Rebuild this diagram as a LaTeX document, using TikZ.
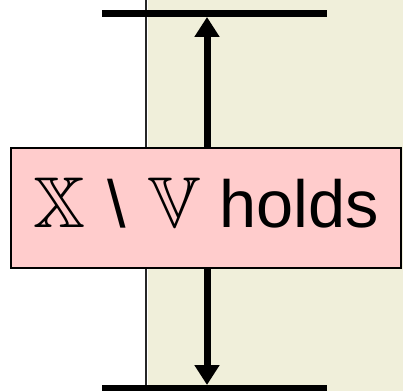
\documentclass[tikz,border=0pt]{standalone}
\usepackage{amssymb}
\usepackage{fontspec}
\usepackage{tikz}
\usetikzlibrary{arrows.meta, positioning}
\newfontfamily\arialfont{Liberation Sans}
\definecolor{cBeige}{RGB}{240,239,218}
\definecolor{cPink}{RGB}{255,204,204}
\newcommand{\bbsym}[1]{{\fontsize{54}{60}\selectfont$\mathbb{#1}$}}
\tikzset{
	bar/.style     ={line width=5.25pt},
	divider/.style ={line width=1.8pt, black!85},
	span/.style    ={{Triangle[length=15pt,width=18pt]}-{Triangle[length=15pt,width=18pt]}, line width=5.25pt},
	label/.style   ={rectangle, draw=black, line width=1.4pt, fill=cPink, minimum width=292.5pt, minimum height=90pt, inner sep=0pt, text height=30pt, text depth=0pt, font=\arialfont\fontsize{50}{60}\selectfont},
}
\begin{document}
\begin{tikzpicture}[x=0.75pt, y=-0.75pt]
	\useasboundingbox (0,0) rectangle (403,391);
	% shaded half
	\fill[cBeige] (148,0) rectangle (403,391);
	\draw[divider] (146,0) -- (146,391);
	% limits
	\coordinate (topL) at (102,13.5);
	\coordinate (topR) at (327,13.5);
	\coordinate (botL) at (102,388);
	\coordinate (botR) at (327,388);
	\draw[bar] (topL) -- (topR);
	\draw[bar] (botL) -- (botR);
	\coordinate (arTop) at (207,17);
	\coordinate (arBot) at (207,385);
	\draw[span] (arTop) -- (arBot);
	\node[label] (cond) at (206,208) {\bbsym{X}\hspace{3pt} \textbackslash{}\hspace{3pt} \bbsym{V} holds};
\end{tikzpicture}
\end{document}
